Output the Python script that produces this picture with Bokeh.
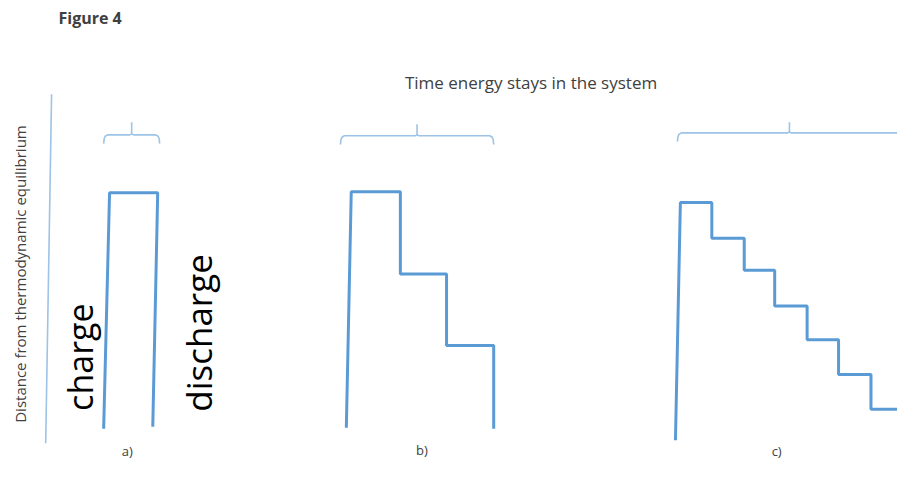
import numpy as np
from bokeh.plotting import figure
from bokeh.models import Range1d
from bokeh.core.properties import value
from bokeh.embed import file_html
from bokeh.resources import INLINE

# ---- data (diagram units) ----
panel_a_x = [105, 111, 160, 155]
panel_a_y = [443, 199, 199, 441]

panel_b_x = [352, 357, 407, 407, 454, 454, 502, 502]
panel_b_y = [442, 198, 198, 283, 283, 357, 357, 443]

panel_c_x = [687, 692, 724, 724, 757, 757, 788, 788, 821, 821, 853, 853, 886, 886, 915]
panel_c_y = [455, 209, 209, 246, 246, 279, 279, 316, 316, 351, 351, 387, 387, 423, 423]

brace_left = [105, 346, 689]
brace_right = [162, 502, 917]
brace_level = [139, 140, 137]
brace_tick_top = [126, 128, 126]

axis_x = [52, 46]
axis_y = [97, 458]

panel_labels = ["a)", "b)", "c)"]
panel_label_x = [129, 429, 790]
panel_label_y = [466, 465, 466]

STEP_COLOR = "#5B9BD5"
LIGHT = "#9DC3E6"
TXT = "#404040"

p = figure(width=897, height=462, output_backend="svg", toolbar_location=None,
           x_range=Range1d(0, 913), y_range=Range1d(478, 0),
           min_border=0, background_fill_color="white")
p.axis.visible = False
p.grid.visible = False
p.outline_line_color = None

# axis line
p.line(axis_x, axis_y, line_color=LIGHT, line_width=1.6)

# braces
for l, r, yb, yt in zip(brace_left, brace_right, brace_level, brace_tick_top):
    m = (l + r) / 2
    bx = [l, l + 0.5, l + 1.5, l + 4, m - 2, m, m, m, m + 2, r - 4, r - 1.5, r - 0.5, r]
    by = [yb + 9, yb + 4, yb + 1.5, yb, yb, yb - 1, yt, yb - 1, yb, yb, yb + 1.5, yb + 4, yb + 9]
    p.line(bx, by, line_color=LIGHT, line_width=1.6)

# step curves
for xs, ys in [(panel_a_x, panel_a_y), (panel_b_x, panel_b_y), (panel_c_x, panel_c_y)]:
    p.line(xs, ys, line_color=STEP_COLOR, line_width=3)

# texts
p.text(x=[59], y=[18], text=["Figure 4"], text_font=value("Open Sans"),
       text_font_size="16px", text_font_style="bold", text_color=TXT,
       text_align="left", text_baseline="middle")
p.text(x=[540], y=[85], text=["Time energy stays in the system"], text_font=value("Open Sans"),
       text_font_size="17px", text_color=TXT, text_align="center", text_baseline="middle")
p.text(x=[20], y=[283], text=["Distance from thermodynamic equilibrium"], angle=np.pi / 2,
       text_font=value("Open Sans"), text_font_size="15px", text_color=TXT,
       text_align="center", text_baseline="middle")
p.text(x=[81], y=[369], text=["charge"], angle=np.pi / 2,
       text_font=value("Open Sans"), text_font_size="34px", text_color="black",
       text_align="center", text_baseline="middle")
p.text(x=[202], y=[344], text=["discharge"], angle=np.pi / 2,
       text_font=value("Open Sans"), text_font_size="35px", text_color="black",
       text_align="center", text_baseline="middle")
p.text(x=panel_label_x, y=panel_label_y, text=panel_labels,
       text_font=value("Open Sans"), text_font_size="13px", text_color=TXT,
       text_align="center", text_baseline="middle")

open("out.html", "w").write(file_html(p, INLINE))
